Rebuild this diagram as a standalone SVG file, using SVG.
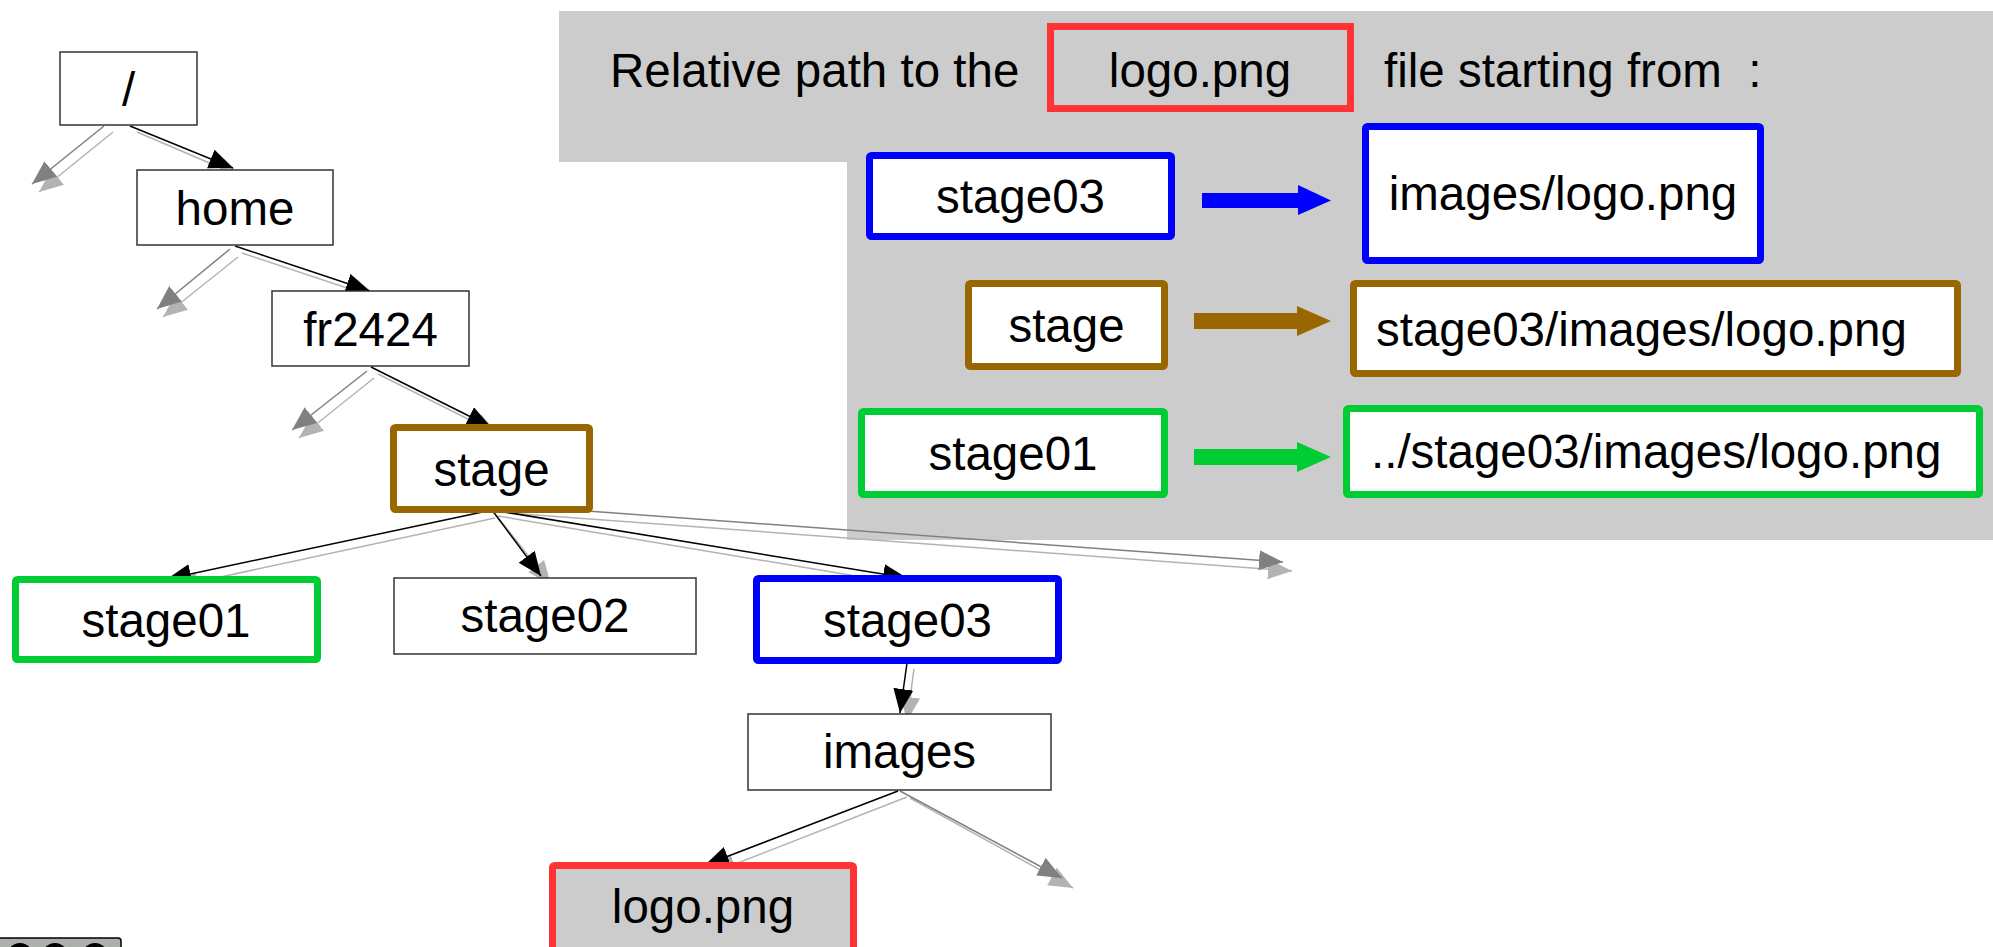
<svg xmlns="http://www.w3.org/2000/svg" width="1993" height="947" viewBox="0 0 1993 947">
<style>
text{font-family:"Liberation Sans",Arial,sans-serif;font-size:47.5px;fill:#000}
.c{text-anchor:middle}
.thin{fill:#fff;stroke:#333;stroke-width:1.5}
.blue{stroke:#0000ff;stroke-width:7;fill:#fff}
.brown{stroke:#996600;stroke-width:7;fill:#fff}
.green{stroke:#00cc33;stroke-width:7;fill:#fff}
.red{stroke:#ff3333;stroke-width:7}
.lb{stroke:#000;stroke-width:1.5;fill:none;marker-end:url(#aB)}
.ld{stroke:#808080;stroke-width:1.5;fill:none;marker-end:url(#aD)}
.ll{stroke:#b3b3b3;stroke-width:1.5;fill:none;marker-end:url(#aL)}
</style>
<defs>
<marker id="aB" markerUnits="userSpaceOnUse" markerWidth="26" markerHeight="22" refX="24" refY="10" orient="auto"><path d="M0,0 L24,10 L0,20 z" fill="#000"/></marker>
<marker id="aD" markerUnits="userSpaceOnUse" markerWidth="26" markerHeight="22" refX="24" refY="10" orient="auto"><path d="M0,0 L24,10 L0,20 z" fill="#808080"/></marker>
<marker id="aL" markerUnits="userSpaceOnUse" markerWidth="26" markerHeight="22" refX="24" refY="10" orient="auto"><path d="M0,0 L24,10 L0,20 z" fill="#b3b3b3"/></marker>
</defs>

<g id="panel">
<path d="M559,11 H1993 V540 H847 V162 H559 Z" fill="#cccccc"/>
<text x="610" y="87">Relative path to the</text>
<rect class="red" x="1050.5" y="26.5" width="300" height="82" fill="none"/>
<text class="c" x="1200" y="87">logo.png</text>
<text x="1384" y="87" xml:space="preserve">file starting from  :</text>
</g>

<g id="connectors">
<line class="ll" x1="113" y1="132" x2="39" y2="192"/>
<line class="ll" x1="137" y1="132" x2="242" y2="177"/>
<line class="ll" x1="238" y1="257" x2="163" y2="317"/>
<line class="ll" x1="242" y1="253" x2="377" y2="298"/>
<line class="ll" x1="374" y1="378" x2="299" y2="438"/>
<line class="ll" x1="378" y1="374" x2="498" y2="434"/>
<line class="ll" x1="496" y1="512" x2="1292" y2="571"/>
<line class="ll" x1="495" y1="518" x2="174" y2="587"/>
<line class="ll" x1="497" y1="516" x2="551" y2="585"/>
<line class="ll" x1="498" y1="516" x2="915" y2="586"/>
<line class="ll" x1="914" y1="669" x2="907" y2="721"/>
<line class="ll" x1="907" y1="797" x2="712" y2="873"/>
<line class="ll" x1="910" y1="798" x2="1073" y2="888"/>

<line class="ld" x1="104" y1="126" x2="32" y2="184"/>
<line class="lb" x1="130" y1="126" x2="233" y2="168"/>
<line class="ld" x1="230" y1="249" x2="157" y2="309"/>
<line class="lb" x1="235" y1="246" x2="370" y2="291"/>
<line class="ld" x1="367" y1="371" x2="292" y2="430"/>
<line class="lb" x1="371" y1="367" x2="491" y2="427"/>
<line class="ld" x1="492" y1="504" x2="1283" y2="562"/>
<line class="lb" x1="492" y1="510" x2="167" y2="579"/>
<line class="lb" x1="492" y1="510" x2="541" y2="576"/>
<line class="lb" x1="492" y1="510" x2="907" y2="578"/>
<line class="lb" x1="907" y1="663" x2="900" y2="713"/>
<line class="lb" x1="898" y1="791" x2="705" y2="865"/>
<line class="ld" x1="900" y1="791" x2="1062" y2="878"/>

<polygon points="1202,193 1298,193 1298,185 1331,200.5 1298,215 1298,208 1202,208" fill="#0000ff"/>
<polygon points="1194,313 1297,313 1297,306 1331,321 1297,336 1297,329 1194,329" fill="#996600"/>
<polygon points="1194,449 1297,449 1297,442 1331,457 1297,472 1297,465 1194,465" fill="#00cc33"/>
</g>

<g id="n-root"><rect class="thin" x="60" y="52" width="137" height="73"/><text class="c" x="128.5" y="106">/</text></g>
<g id="n-home"><rect class="thin" x="137" y="170" width="196" height="75"/><text class="c" x="235" y="225">home</text></g>
<g id="n-fr2424"><rect class="thin" x="272" y="291" width="197" height="75"/><text class="c" x="370.5" y="345.5">fr2424</text></g>
<g id="n-stage"><rect class="brown" x="393.5" y="427.5" width="196" height="82" rx="2"/><text class="c" x="491.5" y="485.5">stage</text></g>
<g id="n-stage01"><rect class="green" x="15.5" y="579.5" width="302" height="80" rx="2"/><text class="c" x="166" y="637">stage01</text></g>
<g id="n-stage02"><rect class="thin" x="394" y="578" width="302" height="76"/><text class="c" x="545" y="632">stage02</text></g>
<g id="n-stage03"><rect class="blue" x="756.5" y="578.5" width="302" height="82" rx="2"/><text class="c" x="907.5" y="637">stage03</text></g>
<g id="n-images"><rect class="thin" x="748" y="714" width="303" height="76"/><text class="c" x="899.5" y="768">images</text></g>
<g id="n-logo"><rect class="red" x="552.5" y="865.5" width="301" height="100" rx="2" fill="#cccccc"/><text class="c" x="703" y="923">logo.png</text></g>

<g id="legend-stage03"><rect class="blue" x="869.5" y="155.5" width="302" height="81" rx="2"/><text class="c" x="1020.5" y="213">stage03</text></g>
<g id="legend-stage03-path"><rect class="blue" x="1365.5" y="126.5" width="395" height="134" rx="2"/><text class="c" x="1563" y="210">images/logo.png</text></g>
<g id="legend-stage"><rect class="brown" x="968.5" y="283.5" width="196" height="83" rx="2"/><text class="c" x="1066.5" y="342">stage</text></g>
<g id="legend-stage-path"><rect class="brown" x="1353.5" y="283.5" width="604" height="90" rx="2"/><text x="1376" y="346">stage03/images/logo.png</text></g>
<g id="legend-stage01"><rect class="green" x="861.5" y="411.5" width="303" height="83" rx="2"/><text class="c" x="1013" y="470">stage01</text></g>
<g id="legend-stage01-path"><rect class="green" x="1346.5" y="408.5" width="633" height="86" rx="2"/><text x="1371" y="468">../stage03/images/logo.png</text></g>

<g id="badge">
<rect x="-2" y="938" width="123" height="20" rx="3" fill="#abb1aa" stroke="#000" stroke-width="1.5"/>
<circle cx="20" cy="956" r="11" fill="none" stroke="#000" stroke-width="4"/>
<circle cx="55" cy="956" r="11" fill="none" stroke="#000" stroke-width="4"/>
<circle cx="95" cy="956" r="11" fill="none" stroke="#000" stroke-width="4"/>
</g>
</svg>
